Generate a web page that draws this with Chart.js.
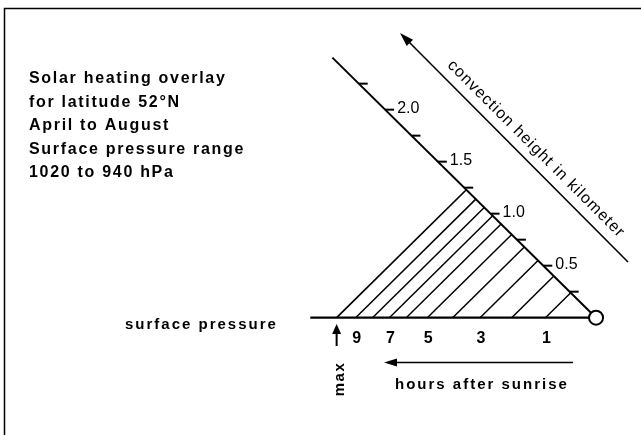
<!DOCTYPE html>
<html>
<head>
<meta charset="utf-8">
<script src="https://cdn.jsdelivr.net/npm/chart.js@4/dist/chart.umd.min.js"></script>
<style>
  html, body { margin: 0; padding: 0; background: #fff; }
  canvas { display: block; }
</style>
</head>
<body>
<canvas id="overlay" width="641" height="435"></canvas>
<script>
// hours after sunrise and the convection height (km) reached after each hour
const hours = [1, 2, 3, 4, 5, 6, 7, 8, 9];
const convectionKm = [0.24, 0.40, 0.55, 0.68, 0.80, 0.90, 0.98, 1.06, 1.14];
const maxKm = 1.23;
const hourLabels = ['1', '3', '5', '7', '9'];

// height scale along the slanted axis
const kmTicks = [0.25, 0.5, 0.75, 1.0, 1.25, 1.5, 1.75, 2.0, 2.25];
const kmTickLabels = ['0.5', '1.0', '1.5', '2.0'];
const axisTopKm = 2.5;

const infoLines = [
    'Solar heating overlay',
    'for latitude 52\u00b0N',
    'April to August',
    'Surface pressure range',
    '1020 to 940 hPa'
];

// one unit = horizontal offset of 1 km on the slanted axis
const PX = 108.5;
const OX = 604, OY = 322;
const tickLen = 0.085;
const font = '"Liberation Sans", Arial, sans-serif';

// a point of height h on the slanted axis sits at (-h, h); hour lines start at (-2h, 0)
const axisPt = h => ({ x: -h, y: h });
const basePt = h => ({ x: -2 * h, y: 0 });

const lineDs = (data, width) => ({
    data: data,
    showLine: true,
    borderColor: '#000',
    borderWidth: width,
    pointRadius: 0,
    fill: false,
    order: 1
});

const datasets = [];
datasets.push(lineDs([{ x: -2.71, y: 0 }, { x: 0, y: 0 }], 2.2));
datasets.push(lineDs([{ x: 0, y: 0 }, axisPt(axisTopKm)], 2));
datasets.push(lineDs([basePt(maxKm), axisPt(maxKm)], 1.7));
convectionKm.forEach(h => datasets.push(lineDs([basePt(h), axisPt(h)], 1.5)));
kmTicks.forEach(h => datasets.push(lineDs([axisPt(h), { x: -h + tickLen, y: h }], 2)));
datasets.push({
    data: [{ x: 0, y: 0 }],
    pointRadius: 7,
    pointBackgroundColor: '#fff',
    pointBorderColor: '#000',
    pointBorderWidth: 2,
    order: 0
});

function arrowHead(ctx, x, y, ang, len, half) {
    ctx.save();
    ctx.translate(x, y);
    ctx.rotate(ang);
    ctx.beginPath();
    ctx.moveTo(0, 0);
    ctx.lineTo(-len, -half);
    ctx.lineTo(-len, half);
    ctx.closePath();
    ctx.fill();
    ctx.restore();
}

const decor = {
    id: 'decor',
    afterDraw(chart) {
        const ctx = chart.ctx;
        const sx = chart.scales.x, sy = chart.scales.y;
        const px = p => [sx.getPixelForValue(p.x), sy.getPixelForValue(p.y)];
        ctx.save();
        ctx.fillStyle = '#000';
        ctx.strokeStyle = '#000';

        // frame
        ctx.lineWidth = 1.5;
        ctx.beginPath();
        ctx.moveTo(641, 8.5);
        ctx.lineTo(4.5, 8.5);
        ctx.lineTo(4.5, 435);
        ctx.stroke();

        // info text
        ctx.font = 'bold 16px ' + font;
        ctx.letterSpacing = '1.7px';
        ctx.textAlign = 'left';
        ctx.textBaseline = 'alphabetic';
        infoLines.forEach((t, i) => ctx.fillText(t, 29, 83 + i * 23.6));

        ctx.font = 'bold 15px ' + font;
        ctx.letterSpacing = '2px';
        ctx.fillText('surface pressure', 125, 329);

        // hour labels
        ctx.font = 'bold 16px ' + font;
        ctx.letterSpacing = '0px';
        ctx.textAlign = 'center';
        ctx.textBaseline = 'middle';
        hourLabels.forEach(l => {
            const h = convectionKm[hours.indexOf(+l)];
            const [x] = px(basePt(h));
            ctx.fillText(l, x + 1, 339);
        });

        // km labels
        ctx.font = '16px ' + font;
        ctx.textAlign = 'left';
        kmTickLabels.forEach(l => {
            const [x, y] = px(axisPt(+l));
            ctx.fillText(l, x + 12, y - 1);
        });

        // max arrow
        const [mx] = px(basePt(maxKm));
        ctx.lineWidth = 2;
        ctx.beginPath();
        ctx.moveTo(mx, 346);
        ctx.lineTo(mx, 330);
        ctx.stroke();
        arrowHead(ctx, mx, 324, -Math.PI / 2, 10, 4.5);
        ctx.save();
        ctx.translate(mx + 3, 379);
        ctx.rotate(-Math.PI / 2);
        ctx.font = 'bold 15px ' + font;
        ctx.letterSpacing = '1.5px';
        ctx.textAlign = 'center';
        ctx.fillText('max', 0, 0);
        ctx.restore();

        // hours after sunrise arrow
        ctx.lineWidth = 1.6;
        ctx.beginPath();
        ctx.moveTo(573, 362.5);
        ctx.lineTo(394, 362.5);
        ctx.stroke();
        arrowHead(ctx, 384, 362.5, Math.PI, 13, 4);
        ctx.font = 'bold 15px ' + font;
        ctx.letterSpacing = '2px';
        ctx.textAlign = 'left';
        ctx.fillText('hours after sunrise', 395, 385);

        // convection height arrow, parallel to the slanted axis
        const a0 = [OX + 24, OY - 60];
        const a1 = [OX - 204, OY - 289];
        ctx.lineWidth = 1.6;
        ctx.beginPath();
        ctx.moveTo(a0[0], a0[1]);
        ctx.lineTo(a1[0] + 8, a1[1] + 8);
        ctx.stroke();
        arrowHead(ctx, a1[0], a1[1], -3 * Math.PI / 4, 14, 4.5);
        ctx.save();
        ctx.translate(536, 149);
        ctx.rotate(Math.PI / 4);
        ctx.font = '16px ' + font;
        ctx.letterSpacing = '1.1px';
        ctx.textAlign = 'center';
        ctx.fillText('convection height in kilometer', 0, 0);
        ctx.restore();

        ctx.restore();
    }
};

new Chart(document.getElementById('overlay'), {
    type: 'scatter',
    data: { datasets: datasets },
    options: {
        responsive: false,
        animation: false,
        layout: { padding: 0 },
        plugins: { legend: { display: false }, tooltip: { enabled: false } },
        scales: {
            x: { type: 'linear', display: false, min: -OX / PX, max: (641 - OX) / PX },
            y: { type: 'linear', display: false, min: -(435 - OY) / PX, max: OY / PX }
        }
    },
    plugins: [decor]
});
</script>
</body>
</html>
